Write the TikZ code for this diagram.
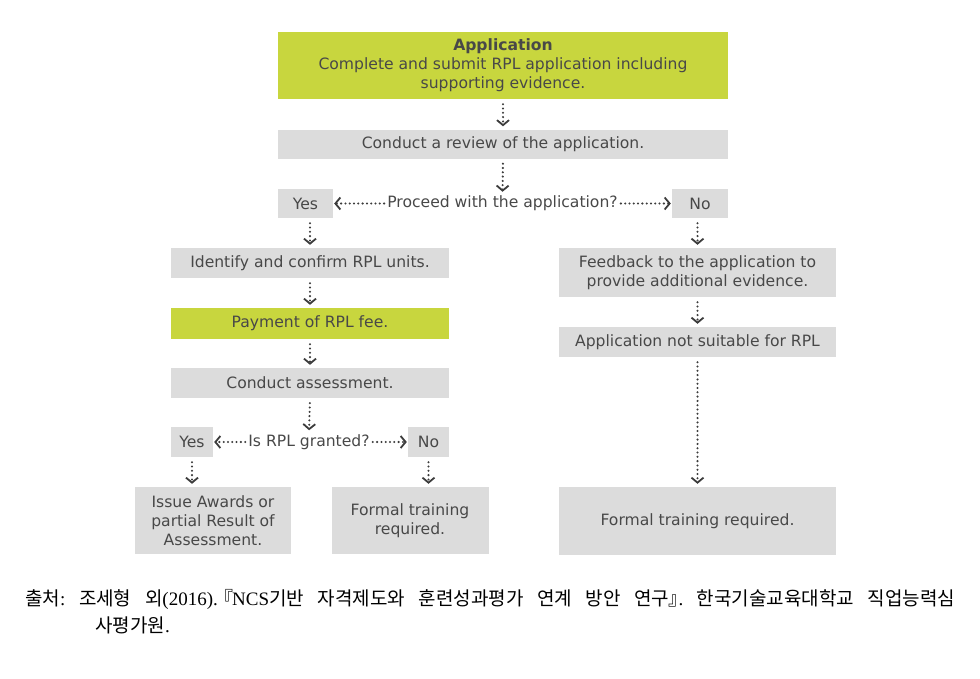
\documentclass[tikz,border=0pt]{standalone}
\usepackage{fontspec}
\setmainfont{DejaVu Sans}
\newfontfamily\krfont{Noto Sans CJK KR}
\newfontfamily\serfont{Liberation Serif}
\usetikzlibrary{arrows.meta}
\definecolor{boxgray}{RGB}{220,220,220}
\definecolor{boxgreen}{RGB}{200,214,62}
\definecolor{txt}{RGB}{72,72,72}
\definecolor{arr}{RGB}{60,60,60}
\newcommand{\kk}[1]{{\krfont #1}}
\begin{document}
\begin{tikzpicture}[x=1pt,y=-1pt,
  box/.style={rectangle,fill=boxgray,text=txt,inner sep=0pt,align=center,
    font=\fontsize{15.6}{19}\selectfont},
  gbox/.style={box,fill=boxgreen},
  qtext/.style={text=txt,inner sep=1pt,font=\fontsize{15.6}{19}\selectfont},
  flow/.style={draw=arr,line width=2.3pt,line cap=round,dash pattern=on 0pt off 4.3pt,
    -{Straight Barb[length=5pt,width=12pt,line width=1.8pt]},shorten <=5pt,shorten >=3pt}
]
\useasboundingbox (0,0) rectangle (980,678);
\node[gbox,minimum width=450pt,minimum height=67pt] (app) at (503,65.5)
  {\textbf{Application}\\Complete and submit RPL application including\\supporting evidence.};
\node[box,minimum width=450pt,minimum height=29pt] (review) at (503,144) {Conduct a review of the application.};
\node[box,minimum width=55pt,minimum height=29pt] (yes1) at (305.5,203.5) {Yes};
\node[box,minimum width=56pt,minimum height=29pt] (no1) at (700,203.5) {No};
\node[qtext] (q1) at (502.5,203.5) {Proceed with the application?};
\node[box,minimum width=278pt,minimum height=30pt] (ident) at (310,263) {Identify and confirm RPL units.};
\node[gbox,minimum width=278pt,minimum height=31pt] (pay) at (310,323.5) {Payment of RPL fee.};
\node[box,minimum width=278pt,minimum height=30pt] (assess) at (310,383) {Conduct assessment.};
\node[box,minimum width=42pt,minimum height=30pt] (yes2) at (192,442) {Yes};
\node[box,minimum width=41pt,minimum height=30pt] (no2) at (428.5,442) {No};
\node[qtext] (q2) at (309,442) {Is RPL granted?};
\node[box,minimum width=156pt,minimum height=67pt] (issue) at (213,520.5)
  {Issue Awards or\\partial Result of\\Assessment.};
\node[box,minimum width=157pt,minimum height=67pt] (formalL) at (410,520.5)
  {Formal training\\required.};
\node[box,minimum width=277pt,minimum height=49pt] (feed) at (697.5,272.5)
  {Feedback to the application to\\provide additional evidence.};
\node[box,minimum width=277pt,minimum height=30pt] (notsuit) at (697.5,342)
  {Application not suitable for RPL};
\node[box,minimum width=277pt,minimum height=68pt] (formalR) at (697.5,521)
  {Formal training required.};
% connectors
\draw[flow] (app.south) -- (review.north);
\draw[flow] (review.south) -- (q1.north);
\draw[flow,shorten <=2pt,shorten >=1pt] (q1.west) -- (yes1.east);
\draw[flow,shorten <=2pt,shorten >=1pt] (q1.east) -- (no1.west);
\draw[flow] (ident.north |- yes1.south) -- (ident.north);
\draw[flow] (feed.north |- no1.south) -- (feed.north);
\draw[flow] (ident.south) -- (pay.north);
\draw[flow] (pay.south) -- (assess.north);
\draw[flow] (assess.south) -- (q2.north);
\draw[flow,shorten <=2pt,shorten >=1pt] (q2.west) -- (yes2.east);
\draw[flow,shorten <=2pt,shorten >=1pt] (q2.east) -- (no2.west);
\draw[flow] (yes2.south) -- (yes2.south |- issue.north);
\draw[flow] (no2.south) -- (no2.south |- formalL.north);
\draw[flow] (feed.south) -- (notsuit.north);
\draw[flow] (notsuit.south) -- (formalR.north);
% caption
\node[anchor=base west,inner sep=0pt,font=\serfont\fontsize{19}{22}\selectfont\frenchspacing] (cap1) at (25,605)
  {\makebox[930pt][s]{\kk{출처}: \kk{조세형} \kk{외}(2016).\kern-0.2em\kk{『}\kern-0.05em NCS\kk{기반} \kk{자격제도와} \kk{훈련성과평가} \kk{연계} \kk{방안} \kk{연구}\kern-0.05em\kk{』}\kern-0.45em. \kk{한국기술교육대학교} \kk{직업능력심}}};
\node[anchor=base west,inner sep=0pt,font=\serfont\fontsize{19}{22}\selectfont] (cap2) at (95,632)
  {\kk{사평가원}.};
\end{tikzpicture}
\end{document}
